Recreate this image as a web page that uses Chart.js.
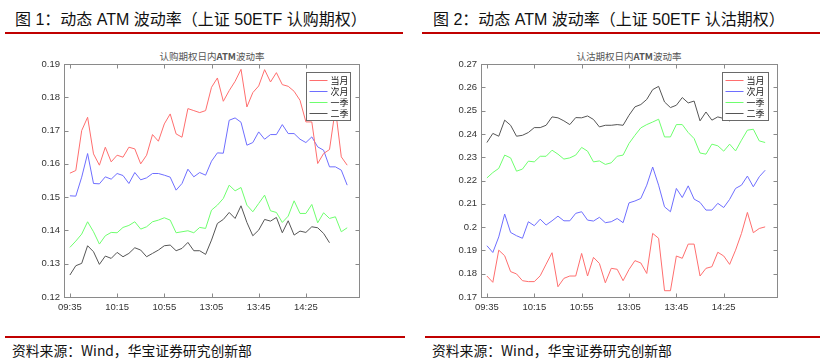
<!DOCTYPE html>
<html>
<head>
<meta charset="utf-8">
<script src="https://cdn.jsdelivr.net/npm/chart.js@4/dist/chart.umd.min.js"></script>
<style>
  body { margin: 0; background: #fff; width: 825px; height: 364px; overflow: hidden; position: relative;
         font-family: "Liberation Sans", "Noto Sans CJK SC", sans-serif; }
  .head { position: absolute; top: 10px; font-size: 16px; color: #111; white-space: nowrap; line-height: 20px; }
  .rule { position: absolute; height: 2px; background: #c00000; }
  .sub { position: absolute; top: 49px; width: 200px; text-align: center; font-size: 9.5px; color: #555;
         font-family: "Noto Sans CJK SC", sans-serif; line-height: 14px; }
  .src { position: absolute; top: 342px; font-size: 13.8px; color: #111; white-space: nowrap; line-height: 16px;
         font-family: "Noto Sans CJK SC", sans-serif; }
  .box { position: absolute; top: 50px; }
</style>
</head>
<body>
<div class="head" style="left:15px">图 1：动态 ATM 波动率（上证 50ETF 认购期权）</div>
<div class="rule" style="left:5px; top:32px; width:398px"></div>
<div class="head" style="left:433px">图 2：动态 ATM 波动率（上证 50ETF 认沽期权）</div>
<div class="rule" style="left:422px; top:32px; width:398px"></div>

<div class="sub" style="left:112px">认购期权日内<b>ATM</b>波动率</div>
<div class="sub" style="left:529px">认沽期权日内<b>ATM</b>波动率</div>

<div class="box" style="left:0px"><canvas id="call-chart" width="412" height="275"></canvas></div>
<div class="box" style="left:412px"><canvas id="put-chart" width="413" height="275"></canvas></div>

<div class="rule" style="left:5px; top:336px; width:400px"></div>
<div class="rule" style="left:425px; top:336px; width:395px"></div>
<div class="src" style="left:12px">资料来源：Wind，华宝证券研究创新部</div>
<div class="src" style="left:432px">资料来源：Wind，华宝证券研究创新部</div>

<script>
  var times = ['09:35','09:40','09:45','09:50','09:55','10:00','10:05','10:10',
    '10:15','10:20','10:25','10:30','10:35','10:40','10:45','10:50',
    '10:55','11:00','11:05','11:10','11:15','11:20','11:25','11:30',
    '13:05','13:10','13:15','13:20','13:25','13:30','13:35','13:40',
    '13:45','13:50','13:55','14:00','14:05','14:10','14:15','14:20',
    '14:25','14:30','14:35','14:40','14:45','14:50','14:55','15:00'];
  var tickLabels = ['09:35', '10:15', '10:55', '13:05', '13:45', '14:25'];
  var seriesNames = ['当月', '次月', '一季', '二季'];

  // 认购
  var callCur = [0.1572,0.1580,0.1700,0.1740,0.1630,0.1596,0.1650,0.1606,0.1626,0.1620,
    0.1650,0.1645,0.1600,0.1626,0.1688,0.1668,0.1720,0.1750,0.1690,0.1680,
    0.1766,0.1760,0.1754,0.1760,0.1830,0.1858,0.1788,0.1820,0.1848,0.1884,
    0.1771,0.1814,0.1834,0.1883,0.1846,0.1874,0.1838,0.1833,0.1818,0.1791,
    0.1726,0.1726,0.1601,0.1631,0.1643,0.1766,0.1621,0.1596];
  var callNext = [0.1504,0.1503,0.1560,0.1631,0.1541,0.1540,0.1561,0.1554,0.1571,0.1565,
    0.1541,0.1574,0.1552,0.1558,0.1571,0.1571,0.1566,0.1560,0.1521,0.1541,
    0.1584,0.1561,0.1574,0.1566,0.1608,0.1633,0.1632,0.1731,0.1738,0.1725,
    0.1656,0.1664,0.1696,0.1674,0.1688,0.1688,0.1718,0.1691,0.1691,0.1674,
    0.1664,0.1681,0.1651,0.1641,0.1591,0.1591,0.1581,0.1536];
  var callQ1 = [0.1349,0.1368,0.1389,0.1426,0.1396,0.1359,0.1384,0.1394,0.1393,0.1409,
    0.1415,0.1426,0.1404,0.1411,0.1426,0.1431,0.1438,0.1431,0.1393,0.1396,
    0.1399,0.1393,0.1409,0.1406,0.1461,0.1476,0.1496,0.1536,0.1519,0.1529,
    0.1476,0.1456,0.1481,0.1506,0.1459,0.1454,0.1424,0.1443,0.1489,0.1451,
    0.1451,0.1478,0.1423,0.1453,0.1436,0.1441,0.1396,0.1408];
  var callQ2 = [0.1266,0.1294,0.1301,0.1354,0.1336,0.1298,0.1323,0.1316,0.1334,0.1321,
    0.1331,0.1348,0.1341,0.1321,0.1331,0.1341,0.1354,0.1356,0.1339,0.1346,
    0.1364,0.1339,0.1339,0.1328,0.1371,0.1421,0.1433,0.1454,0.1436,0.1474,
    0.1424,0.1384,0.1401,0.1433,0.1428,0.1439,0.1393,0.1429,0.1386,0.1398,
    0.1394,0.1411,0.1408,0.1391,0.1363,null,null,null];

  // 认沽
  var putCur = [0.1790,0.1763,0.1901,0.1877,0.1809,0.1799,0.1770,0.1766,0.1766,0.1791,
    0.1841,0.1890,0.1744,0.1780,0.1790,0.1790,0.1887,0.1790,0.1870,0.1844,
    0.1761,0.1823,0.1819,0.1770,0.1818,0.1856,0.1846,0.1801,0.1973,0.1952,
    0.1727,0.1727,0.1876,0.1866,0.1927,0.1927,0.1790,0.1823,0.1830,0.1892,
    0.1876,0.1840,0.1901,0.1973,0.2063,0.1976,0.1994,0.2001];
  var putNext = [0.1920,0.1891,0.1958,0.2056,0.1977,0.1963,0.1952,0.2023,0.2006,0.2034,
    0.2009,0.2027,0.2047,0.2027,0.2027,0.2059,0.2066,0.2030,0.2026,0.2042,
    0.2019,0.2023,0.2037,0.2019,0.2104,0.2112,0.2123,0.2180,0.2258,0.2180,
    0.2087,0.2066,0.2166,0.2127,0.2177,0.2120,0.2106,0.2073,0.2073,0.2102,
    0.2084,0.2119,0.2166,0.2180,0.2219,0.2173,0.2216,0.2244];
  var putQ1 = [0.2211,0.2234,0.2252,0.2309,0.2297,0.2240,0.2249,0.2283,0.2280,0.2304,
    0.2304,0.2330,0.2313,0.2292,0.2297,0.2309,0.2342,0.2326,0.2280,0.2284,
    0.2269,0.2276,0.2304,0.2309,0.2359,0.2394,0.2426,0.2440,0.2451,0.2463,
    0.2387,0.2387,0.2440,0.2440,0.2406,0.2380,0.2318,0.2313,0.2356,0.2349,
    0.2326,0.2356,0.2327,0.2373,0.2416,0.2420,0.2370,0.2363];
  var putQ2 = [0.2363,0.2402,0.2390,0.2459,0.2437,0.2390,0.2394,0.2406,0.2427,0.2427,
    0.2437,0.2473,0.2469,0.2456,0.2440,0.2470,0.2469,0.2477,0.2462,0.2430,
    0.2437,0.2437,0.2440,0.2437,0.2480,0.2516,0.2526,0.2548,0.2590,0.2604,
    0.2537,0.2513,0.2523,0.2556,0.2533,0.2541,0.2456,0.2494,0.2459,0.2473,
    0.2466,0.2456,0.2468,0.2472,0.2470,null,null,null];

  var lineColors = ['#ff6e6e', '#6e6eff', '#6eff6e', '#555555'];

  var tickIdx = tickLabels.map(function (t) { return times.indexOf(t); });

  var toPoints = function (arr) {
    return arr.map(function (v, i) { return { x: i, y: v }; });
  };

  // box round the plot, inward ticks and a legend inside the axes (matlab look)
  var framePlugin = {
    id: 'frame',
    afterDatasetsDraw: function (chart, args, opts) {
      var a = chart.chartArea, ctx = chart.ctx;
      var xs = chart.scales.x, ys = chart.scales.y;
      var L = Math.round(a.left) + 0.5, R = Math.round(a.right) + 0.5;
      var T = Math.round(a.top) + 0.5, B = Math.round(a.bottom) + 0.5;
      ctx.save();
      ctx.strokeStyle = '#8a8a8a';
      ctx.lineWidth = 1;
      ctx.strokeRect(L, T, R - L, B - T);
      ctx.beginPath();
      xs.ticks.forEach(function (t) {
        var px = Math.round(xs.getPixelForValue(t.value)) + 0.5;
        ctx.moveTo(px, B); ctx.lineTo(px, B - 4);
        ctx.moveTo(px, T); ctx.lineTo(px, T + 4);
      });
      ys.ticks.forEach(function (t) {
        var py = Math.round(ys.getPixelForValue(t.value)) + 0.5;
        ctx.moveTo(L, py); ctx.lineTo(L + 4, py);
        ctx.moveTo(R, py); ctx.lineTo(R - 4, py);
      });
      ctx.stroke();

      // legend
      var w = opts.width, h = opts.height;
      var lx = Math.round(a.right - 9 - w) + 0.5, ly = Math.round(a.top + 8) + 0.5;
      ctx.fillStyle = '#fff';
      ctx.fillRect(lx, ly, w, h);
      ctx.strokeStyle = '#6a6a6a';
      ctx.strokeRect(lx, ly, w, h);
      ctx.font = '9px "Noto Sans CJK SC"';
      ctx.textBaseline = 'middle';
      chart.data.datasets.forEach(function (ds, k) {
        var yy = Math.round(ly + 7 + k * 11.2) + 0.5;
        ctx.strokeStyle = ds.borderColor;
        ctx.beginPath();
        ctx.moveTo(lx + 3, yy); ctx.lineTo(lx + 21, yy);
        ctx.stroke();
        ctx.fillStyle = '#222';
        ctx.fillText(ds.label, lx + 24, yy);
      });
      ctx.restore();
    }
  };

  var makeConfig = function (series, yMin, yMax, yWidth, padRight, legW) {
    return {
      type: 'line',
      data: {
        datasets: series.map(function (s, k) {
          return {
            label: seriesNames[k],
            data: toPoints(s),
            borderColor: lineColors[k],
            borderWidth: 1,
            pointRadius: 0,
            tension: 0,
            fill: false
          };
        })
      },
      options: {
        responsive: false,
        animation: false,
        layout: {
          padding: { left: 0, right: padRight, top: 14, bottom: 8 }
        },
        plugins: {
          legend: { display: false },
          title: { display: false },
          tooltip: { enabled: false },
          frame: { width: legW, height: 48 }
        },
        scales: {
          x: {
            type: 'linear',
            min: -1,
            max: 49,
            grid: { display: false, drawTicks: false },
            border: { display: false },
            afterBuildTicks: function (scale) {
              scale.ticks = tickIdx.map(function (v) { return { value: v }; });
            },
            afterFit: function (scale) { scale.height = 20; },
            ticks: {
              autoSkip: false,
              maxRotation: 0,
              padding: 5,
              color: '#333',
              font: { family: 'Liberation Sans', size: 9.5 },
              callback: function (v) { return times[v]; }
            }
          },
          y: {
            min: yMin,
            max: yMax,
            grid: { display: false, drawTicks: false },
            border: { display: false },
            afterFit: function (scale) { scale.width = yWidth; },
            ticks: {
              stepSize: 0.01,
              padding: 4,
              color: '#333',
              font: { family: 'Liberation Sans', size: 9.5 },
              callback: function (v) { return String(Math.round(v * 100) / 100); }
            }
          }
        }
      },
      plugins: [framePlugin]
    };
  };

  var callConfig = makeConfig([callCur, callNext, callQ1, callQ2], 0.12, 0.19, 64, 53, 44);
  var putConfig = makeConfig([putCur, putNext, putQ1, putQ2], 0.17, 0.27, 69, 48, 46);

  window.onload = function () {
    var ctx1 = document.getElementById('call-chart').getContext('2d');
    window.callChart = new Chart(ctx1, callConfig);
    var ctx2 = document.getElementById('put-chart').getContext('2d');
    window.putChart = new Chart(ctx2, putConfig);
  };
</script>
</body>
</html>
